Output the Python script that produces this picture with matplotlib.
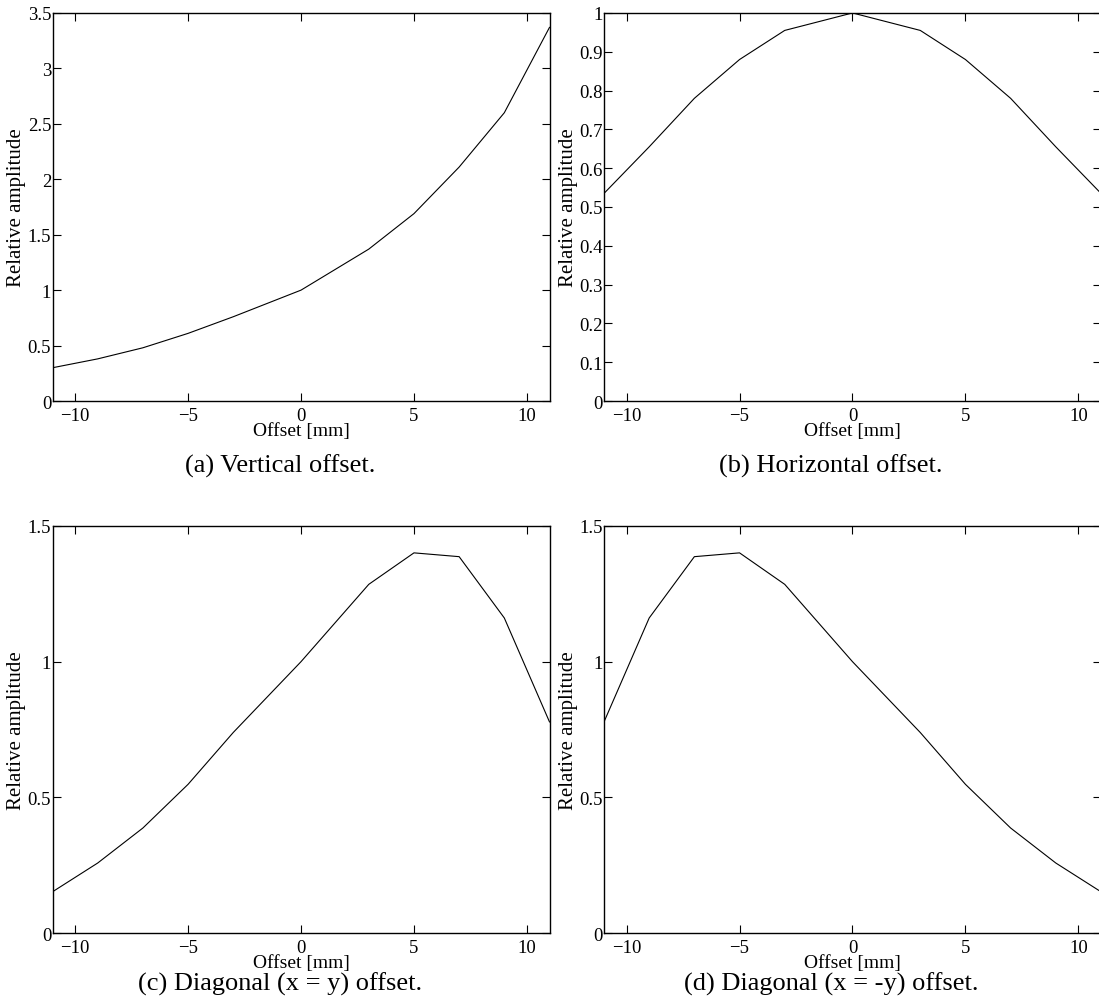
import matplotlib.pyplot as plt
import numpy as np

plt.rcParams['font.family'] = ['Liberation Serif', 'DejaVu Serif']
plt.rcParams['axes.unicode_minus'] = True

# offsets in mm
offset = [-11, -9, -7, -5, -3, 0, 3, 5, 7, 9, 11]

# relative amplitudes
vertical = [0.30, 0.38, 0.48, 0.61, 0.76, 1.00, 1.37, 1.69, 2.11, 2.60, 3.37]
horizontal = [0.535, 0.655, 0.78, 0.88, 0.955, 1.00, 0.955, 0.88, 0.78, 0.655, 0.535]
diag_xy = [0.152, 0.258, 0.387, 0.548, 0.739, 1.00, 1.285, 1.401, 1.387, 1.161, 0.778]
diag_xmy = [0.778, 1.161, 1.387, 1.401, 1.285, 1.00, 0.739, 0.548, 0.387, 0.258, 0.152]

captions = ["(a) Vertical offset.", "(b) Horizontal offset.",
            "(c) Diagonal (x = y) offset.", "(d) Diagonal (x = -y) offset."]
yticks_a = [0, 0.5, 1, 1.5, 2, 2.5, 3, 3.5]
yticks_b = [0, 0.1, 0.2, 0.3, 0.4, 0.5, 0.6, 0.7, 0.8, 0.9, 1]
yticks_cd = [0, 0.5, 1, 1.5]
xticks = [-10, -5, 0, 5, 10]

fig = plt.figure(figsize=(10.99, 10.04), dpi=100)

W = 0.4522
# axes box, data, y ticks, y max, caption centre (x, y) in figure fraction
panels = [
    ([0.0478, 0.5996, W, 0.3865], vertical, yticks_a, 3.5, (0.2548, 0.536)),
    ([0.5496, 0.5996, W, 0.3865], horizontal, yticks_b, 1.0, (0.7561, 0.536)),
    ([0.0478, 0.0697, W, 0.4054], diag_xy, yticks_cd, 1.5, (0.2548, 0.020)),
    ([0.5496, 0.0697, W, 0.4054], diag_xmy, yticks_cd, 1.5, (0.7561, 0.020)),
]

for (pos, y, yt, ymax, cpos), cap in zip(panels, captions):
    ax = fig.add_axes(pos)
    ax.plot(offset, y, color='black', linewidth=0.8)
    ax.set_xlim(-11, 11)
    ax.set_ylim(0, ymax)
    ax.set_xticks(xticks)
    ax.set_yticks(yt)
    ax.set_yticklabels(['%g' % v for v in yt])
    ax.tick_params(direction='in', top=True, right=True, labelsize=13.5,
                   length=6, width=0.8, pad=1)
    ax.tick_params(axis='x', pad=4)
    for s in ax.spines.values():
        s.set_linewidth(1.0)
    ax.set_xlabel('Offset [mm]', fontsize=14, labelpad=-1)
    ax.set_ylabel('Relative amplitude', fontsize=15, labelpad=1)
    # caption under each panel
    fig.text(cpos[0], cpos[1], cap, ha='center', va='center', fontsize=19)

fig.savefig('out.png', dpi=100)
